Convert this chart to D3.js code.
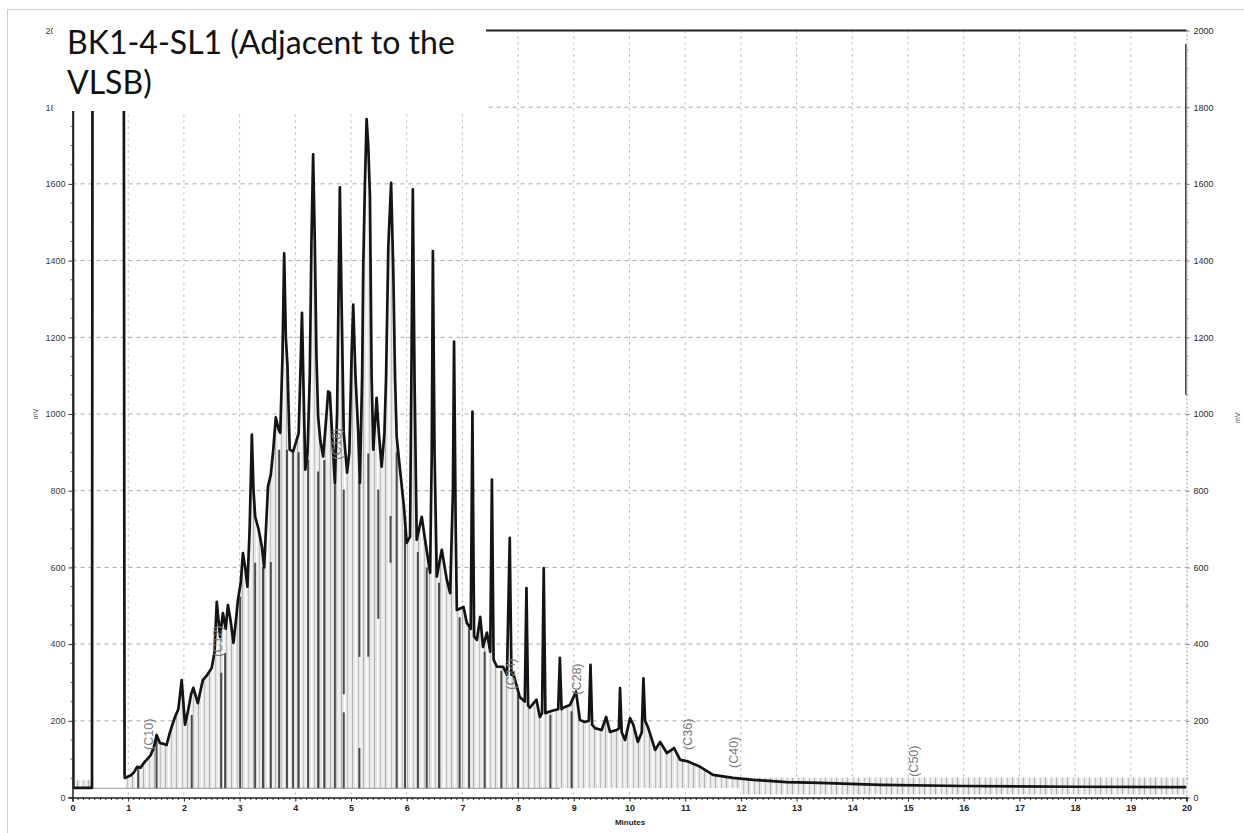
<!DOCTYPE html>
<html>
<head>
<meta charset="utf-8">
<script src="https://cdn.jsdelivr.net/npm/d3@7"></script>
<style>
  body { margin: 0; background: #fff; }
  svg { display: block; }
</style>
</head>
<body>
<div id="chart"></div>
<script>
// detector trace: time (min) and signal (mV)
const traceTime = [0, 0.005, 0.015, 0.35, 0.36, 0.375, 0.92, 0.935,
  0.94, 1.0, 1.05, 1.10, 1.16, 1.22, 1.28, 1.33, 1.40, 1.46, 1.51, 1.57, 1.63, 1.69, 1.74, 1.78, 1.84, 1.90,
  1.96, 2.02, 2.08, 2.13, 2.17, 2.25, 2.30, 2.34, 2.42, 2.50, 2.55, 2.59, 2.65, 2.70, 2.75, 2.79, 2.84, 2.89,
  2.94, 2.97, 3.02, 3.06, 3.10, 3.14, 3.18, 3.22, 3.25, 3.28, 3.34, 3.40, 3.44, 3.48, 3.51, 3.56, 3.60, 3.65,
  3.70, 3.73, 3.77, 3.80, 3.83, 3.86, 3.90, 3.96, 4.02, 4.06, 4.09, 4.12, 4.15, 4.18, 4.22, 4.26, 4.29, 4.32,
  4.35, 4.38, 4.41, 4.45, 4.50, 4.55, 4.59, 4.62, 4.66, 4.71, 4.75, 4.78, 4.80, 4.83, 4.87, 4.93, 4.97, 5.01,
  5.04, 5.08, 5.13, 5.16, 5.20, 5.22, 5.25, 5.28, 5.31, 5.34, 5.37, 5.40, 5.46, 5.50, 5.55, 5.60, 5.63, 5.67,
  5.72, 5.76, 5.79, 5.82, 5.88, 5.95, 6.00, 6.06, 6.09, 6.11, 6.14, 6.18, 6.27, 6.33, 6.42, 6.45, 6.47, 6.50,
  6.54, 6.63, 6.72, 6.78, 6.83, 6.85, 6.88, 6.90, 7.02, 7.08, 7.15, 7.18, 7.21, 7.26, 7.32, 7.37, 7.44, 7.50,
  7.53, 7.56, 7.62, 7.73, 7.80, 7.85, 7.88, 7.91, 8.03, 8.12, 8.15, 8.18, 8.21, 8.33, 8.39, 8.43, 8.46, 8.49,
  8.54, 8.63, 8.72, 8.75, 8.78, 8.81, 8.93, 9.04, 9.11, 9.20, 9.27, 9.30, 9.33, 9.38, 9.50, 9.58, 9.65, 9.77,
  9.81, 9.83, 9.86, 9.92, 10.01, 10.07, 10.15, 10.22, 10.25, 10.28, 10.33, 10.46, 10.55, 10.67, 10.80, 10.91,
  11.03, 11.27, 11.50, 11.86, 12.22, 12.82, 13.42, 14.5, 16, 18, 20]
const traceMv = [25, 2100, 25, 25, 2100, 2100, 2100, 60,
  51, 55, 58, 65, 80, 78, 90, 98, 110, 130, 163, 142, 140, 137, 165, 184, 210, 230,
  306, 190, 230, 270, 286, 246, 280, 306, 320, 338, 380, 510, 419, 481, 440, 502, 460, 403,
  470, 515, 560, 637, 600, 550, 700, 946, 800, 732, 700, 654, 600, 720, 811, 842, 900, 991,
  960, 951, 1150, 1419, 1200, 1124, 907, 902, 930, 950, 1100, 1264, 1050, 855, 900, 1100, 1450, 1677,
  1450, 1150, 993, 930, 889, 980, 1059, 1056, 950, 821, 1000, 1350, 1591, 1300, 950, 847, 900, 1150,
  1285, 1100, 951, 821, 1100, 1385, 1600, 1769, 1700, 1568, 1100, 907, 1042, 950, 863, 950, 1097, 1437,
  1603, 1368, 1100, 941, 855, 759, 664, 680, 1200, 1586, 1100, 672, 732, 672, 586, 900, 1425, 900,
  576, 646, 568, 533, 800, 1189, 700, 489, 497, 455, 440, 1006, 420, 411, 471, 393, 430, 380,
  829, 360, 341, 341, 320, 677, 320, 325, 262, 250, 546, 240, 234, 255, 210, 220, 598, 220,
  223, 227, 230, 364, 230, 234, 241, 276, 202, 197, 200, 346, 190, 181, 176, 210, 171, 176,
  180, 285, 170, 150, 207, 189, 145, 170, 311, 200, 184, 124, 145, 116, 129, 98,
  95, 80, 59, 51, 46, 40, 38, 33, 30, 28, 27]

// short trace segment at the right edge (min, mV)
const endTime = [20, 20]
const endMv = [1050, 1965]

// integration slice markers: time, top, bottom (mV)
const markerTime = [1.18, 1.51, 2.14, 2.67, 2.74, 3.01, 3.28, 3.42, 3.56, 3.71, 3.85, 3.96, 4.06, 4.23, 4.41,
  4.52, 4.71, 4.87, 4.87, 5.15, 5.15, 5.31, 5.49, 5.71, 5.82, 5.97, 6.2, 6.36, 6.58, 6.95, 7.12, 7.4, 7.7, 8.0,
  8.58, 8.96]
const markerTop = [80, 160, 215, 325, 377, 524, 612, 601, 614, 907, 907, 900, 900, 880, 850,
  880, 821, 803, 222, 827, 129, 897, 803, 734, 900, 700, 640, 600, 560, 470, 440, 380, 330, 270,
  215, 225]
const markerBottom = [24, 24, 24, 24, 24, 24, 24, 24, 24, 24, 24, 24, 24, 24, 24,
  24, 24, 269, 24, 367, 24, 367, 466, 612, 24, 24, 24, 24, 24, 24, 24, 24, 24, 24,
  24, 24]

// noise bands with slice fill (time from, time to, low, high mV)
const bandFrom = [0, 12.0]
const bandTo = [0.35, 20]
const bandLow = [24, 8]
const bandHigh = [45, 52]

// peak annotations
const peakNames = ['(C10)', '(C12)', '(C18)', '(C24)', '(C28)', '(C36)', '(C40)', '(C50)']
const peakTime = [1.36, 2.60, 4.73, 7.85, 9.04, 11.03, 11.86, 15.09]
const peakMv = [124, 367, 881, 281, 268, 124, 77, 54]

const xTicks = d3.range(0, 21)
const yTicks = [0, 200, 400, 600, 800, 1000, 1200, 1400, 1600, 1800, 2000]
const baselineMv = 24
const baselineEnd = 8.75

const width = 1244, height = 833

let svg = d3.select('#chart').append('svg')
    .attr('width', width)
    .attr('height', height)

let x = d3.scaleLinear().domain([0, 20]).range([72.5, 1186.5])
let y = d3.scaleLinear().domain([0, 2000]).range([797.5, 30.5])

// outer frame of the picture
svg.append('rect')
    .attr('x', 7.5).attr('y', 9.5)
    .attr('width', 1260).attr('height', 900)
    .attr('fill', 'none').attr('stroke', '#cfcfcf')

let defs = svg.append('defs')
defs.append('clipPath').attr('id', 'plot')
    .append('rect')
    .attr('x', x(0)).attr('y', y(2000))
    .attr('width', x(20) - x(0)).attr('height', y(0) - y(2000))

// vertical slice pattern
let pat = defs.append('pattern')
    .attr('id', 'slices')
    .attr('patternUnits', 'userSpaceOnUse')
    .attr('width', 11).attr('height', 10)
pat.append('rect').attr('width', 11).attr('height', 10).attr('fill', '#e6e6e6')
pat.append('rect').attr('x', 0).attr('width', 1).attr('height', 10).attr('fill', '#b0b0b0')
pat.append('rect').attr('x', 3).attr('width', 1.5).attr('height', 10).attr('fill', '#ffffff')
pat.append('rect').attr('x', 6).attr('width', 1).attr('height', 10).attr('fill', '#c4c4c4')
pat.append('rect').attr('x', 8.5).attr('width', 1).attr('height', 10).attr('fill', '#f8f8f8')

// grid
svg.append('g').selectAll('line')
    .data(yTicks.filter(d => d > 0 && d < 2000))
    .enter().append('line')
    .attr('x1', x(0)).attr('x2', x(20))
    .attr('y1', d => y(d)).attr('y2', d => y(d))
    .attr('stroke', '#a8a8a8')
    .attr('stroke-dasharray', '4,4')

svg.append('g').selectAll('line')
    .data(xTicks.filter(d => d > 0 && d < 20))
    .enter().append('line')
    .attr('x1', d => x(d)).attr('x2', d => x(d))
    .attr('y1', y(2000)).attr('y2', y(0))
    .attr('stroke', '#b0b0b0')
    .attr('stroke-dasharray', '2,4')

let plot = svg.append('g').attr('clip-path', 'url(#plot)')

let trace = traceTime.map((t, i) => ({ t: t, v: traceMv[i] }))

// slice fill under the trace
let fillPts = trace.filter(d => d.t >= 0.94 && d.t <= 12.3)
plot.append('path')
    .datum(fillPts)
    .attr('fill', 'url(#slices)')
    .attr('d', d3.area()
        .x(d => x(d.t))
        .y0(y(baselineMv))
        .y1(d => y(d.v)))

bandFrom.forEach((b, i) => {
    plot.append('rect')
        .attr('x', x(b)).attr('width', x(bandTo[i]) - x(b))
        .attr('y', y(bandHigh[i])).attr('height', y(bandLow[i]) - y(bandHigh[i]))
        .attr('fill', 'url(#slices)')
})

// baseline
plot.append('line')
    .attr('x1', x(0)).attr('x2', x(baselineEnd))
    .attr('y1', y(baselineMv)).attr('y2', y(baselineMv))
    .attr('stroke', '#9a9a9a').attr('stroke-width', 1)

// slice markers
plot.append('g').selectAll('line')
    .data(markerTime)
    .enter().append('line')
    .attr('x1', d => x(d)).attr('x2', d => x(d))
    .attr('y1', (d, i) => y(markerBottom[i]))
    .attr('y2', (d, i) => y(markerTop[i]))
    .attr('stroke', '#4a4a4a')
    .attr('stroke-width', 2)

// trace
let line = d3.line().x(d => x(d.t)).y(d => y(d.v))
plot.append('path')
    .datum(trace)
    .attr('fill', 'none')
    .attr('stroke', '#141414')
    .attr('stroke-width', 2.7)
    .attr('stroke-linejoin', 'round')
    .attr('d', line)

plot.append('path')
    .datum(endTime.map((t, i) => ({ t: t, v: endMv[i] })))
    .attr('fill', 'none')
    .attr('stroke', '#141414')
    .attr('stroke-width', 2.5)
    .attr('d', line)

// peak labels
svg.append('g').selectAll('text')
    .data(peakNames)
    .enter().append('text')
    .attr('transform', (d, i) => 'translate(' + (x(peakTime[i]) + 5) + ',' + y(peakMv[i]) + ') rotate(-90)')
    .attr('font-family', 'Liberation Sans, Arial, sans-serif')
    .attr('font-size', 12.5)
    .attr('fill', '#7a7a7a')
    .text(d => d)

// top frame line
svg.append('line')
    .attr('x1', x(0)).attr('x2', x(20))
    .attr('y1', y(2000)).attr('y2', y(2000))
    .attr('stroke', '#222').attr('stroke-width', 2)

let fmt = d3.format('d')

// left axis
let left = svg.append('g')
    .attr('transform', 'translate(' + x(0) + ',0)')
    .call(d3.axisLeft(y).tickValues(yTicks).tickSize(4).tickPadding(3).tickFormat(fmt))
left.select('.domain').attr('stroke', '#222').attr('stroke-width', 1.5)
left.selectAll('.tick line').attr('stroke', '#333')
left.selectAll('text').attr('font-family', 'Liberation Sans, Arial, sans-serif')
    .attr('font-size', 9).attr('fill', '#3a3a3a')
svg.append('g').selectAll('line')
    .data(d3.range(0, 2000, 50).filter(d => d % 200 !== 0))
    .enter().append('line')
    .attr('x1', x(0) - 2).attr('x2', x(0))
    .attr('y1', d => y(d)).attr('y2', d => y(d))
    .attr('stroke', '#666')

// right axis
let right = svg.append('g')
    .attr('transform', 'translate(' + x(20) + ',0)')
    .call(d3.axisRight(y).tickValues(yTicks).tickSize(3).tickPadding(4).tickFormat(fmt))
right.select('.domain').attr('stroke', '#9a9a9a').attr('stroke-dasharray', '2,2')
right.selectAll('.tick line').attr('stroke', '#777')
right.selectAll('text').attr('font-family', 'Liberation Sans, Arial, sans-serif')
    .attr('font-size', 9).attr('fill', '#2a2a2a')
svg.append('g').selectAll('line')
    .data(d3.range(0, 2000, 50).filter(d => d % 200 !== 0))
    .enter().append('line')
    .attr('x1', x(20)).attr('x2', x(20) + 2)
    .attr('y1', d => y(d)).attr('y2', d => y(d))
    .attr('stroke', '#999')

// bottom axis
let bottom = svg.append('g')
    .attr('transform', 'translate(0,' + y(0) + ')')
    .call(d3.axisBottom(x).tickValues(xTicks).tickSize(4).tickPadding(3).tickFormat(fmt))
bottom.select('.domain').attr('stroke', '#222').attr('stroke-width', 1.5)
bottom.selectAll('.tick line').attr('stroke', '#222')
bottom.selectAll('text').attr('font-family', 'Liberation Sans, Arial, sans-serif')
    .attr('font-size', 9).attr('font-weight', 'bold').attr('fill', '#222')
svg.append('g').selectAll('line')
    .data(d3.range(1, 200).filter(d => d % 10 !== 0).map(d => d / 10))
    .enter().append('line')
    .attr('x1', d => x(d)).attr('x2', d => x(d))
    .attr('y1', y(0)).attr('y2', y(0) + 2.5)
    .attr('stroke', '#333')

svg.append('text')
    .attr('x', 630).attr('y', 825)
    .attr('text-anchor', 'middle')
    .attr('font-family', 'Liberation Sans, Arial, sans-serif')
    .attr('font-size', 8).attr('font-weight', 'bold')
    .attr('fill', '#222')
    .text('Minutes')

svg.append('text')
    .attr('transform', 'translate(38,' + y(1000) + ') rotate(-90)')
    .attr('text-anchor', 'middle')
    .attr('font-family', 'Liberation Sans, Arial, sans-serif')
    .attr('font-size', 7).attr('fill', '#555')
    .text('mV')

svg.append('text')
    .attr('transform', 'translate(1240,' + y(990) + ') rotate(-90)')
    .attr('text-anchor', 'middle')
    .attr('font-family', 'Liberation Sans, Arial, sans-serif')
    .attr('font-size', 7).attr('fill', '#555')
    .text('mV')

// title box pasted over the top-left corner
svg.append('rect')
    .attr('x', 53).attr('y', 12)
    .attr('width', 433).attr('height', 99)
    .attr('fill', '#fff')

let title = svg.append('text')
    .attr('font-family', 'Lato, sans-serif')
    .attr('font-size', 32)
    .attr('fill', '#111')
title.append('tspan').attr('x', 67).attr('y', 54).text('BK1-4-SL1 (Adjacent to the')
title.append('tspan').attr('x', 67).attr('y', 94).text('VLSB)')
</script>
</body>
</html>
